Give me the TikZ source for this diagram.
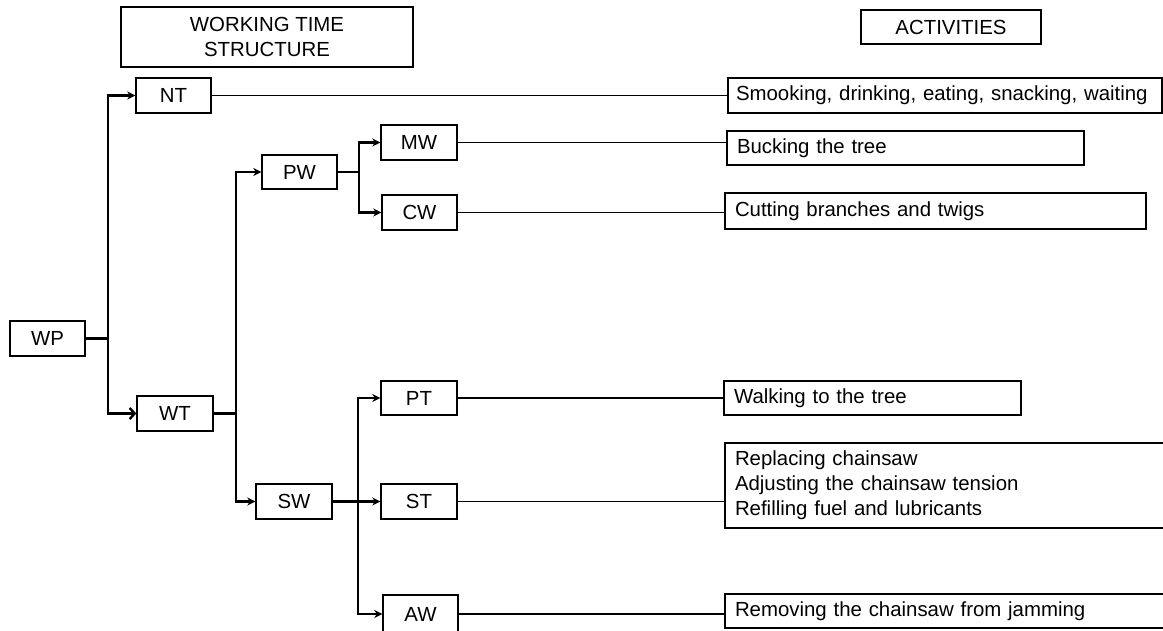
\documentclass[tikz,border=0pt]{standalone}
\usepackage{fontspec}
\setmainfont{Liberation Sans}
\usetikzlibrary{arrows.meta}
\begin{document}
\begin{tikzpicture}[x=1pt,y=-1pt,
  box/.style={draw, line width=1.4pt, inner sep=0pt, font=\fontsize{20.4}{25}\selectfont, align=center},
  actbox/.style={draw, line width=1.4pt, inner xsep=10pt, inner ysep=0pt, font=\fontsize{20.4}{25}\selectfont, align=left},
  conn/.style={line width=2.4pt},
  arr/.style={conn, -{Stealth[length=8pt,width=8pt]}},
  openarr/.style={conn, -{Straight Barb[length=5pt,width=11pt]}},
  actline/.style={line width=1.1pt}]
\useasboundingbox (0,0) rectangle (1163,630);
% headers
\node[box, minimum width=292, minimum height=60] (wts) at (267,37) {WORKING TIME\\STRUCTURE};
\node[box, minimum width=180, minimum height=34] (act) at (951,27) {ACTIVITIES};
% structure nodes
\node[box, minimum width=75, minimum height=35] (WP) at (47.5,338.5) {WP};
\node[box, minimum width=75, minimum height=35] (NT) at (173.5,95.5) {NT};
\node[box, minimum width=76, minimum height=35] (WT) at (175,413.5) {WT};
\node[box, minimum width=75, minimum height=34] (PW) at (299.5,172) {PW};
\node[box, minimum width=76, minimum height=35] (SW) at (294,501.5) {SW};
\node[box, minimum width=76, minimum height=35] (MW) at (419,142.5) {MW};
\node[box, minimum width=75, minimum height=35] (CW) at (419.5,212.5) {CW};
\node[box, minimum width=76, minimum height=34] (PT) at (419,398) {PT};
\node[box, minimum width=76, minimum height=35] (ST) at (419,501.5) {ST};
\node[box, minimum width=75, minimum height=38] (AW) at (420.5,614) {AW};
% activity boxes
\node[actbox, inner xsep=8pt, text width=418, minimum height=35] (aNT) at (945,95.5) {Smooking, drinking, eating, snacking, waiting};
\node[actbox, text width=337, minimum height=34] (aMW) at (905.5,148) {Bucking the tree};
\node[actbox, text width=401, minimum height=36] (aCW) at (935.5,211) {Cutting branches and twigs};
\node[actbox, text width=277, minimum height=34] (aPT) at (872.5,398) {Walking to the tree};
\node[actbox, text width=421, minimum height=85] (aST) at (945.5,485.5) {Replacing chainsaw\\Adjusting the chainsaw tension\\Refilling fuel and lubricants};
\node[actbox, text width=421, minimum height=34] (aAW) at (945.5,611) {Removing the chainsaw from jamming};
% junctions
\coordinate (j1) at (108,338.5);
\coordinate (j2) at (236,413.5);
\coordinate (j3) at (359,172);
\coordinate (j4) at (358,501.5);
% connectors
\draw[conn] (WP.east) -- (j1);
\draw[arr] (j1) |- (NT);
\draw[openarr] (j1) |- (WT);
\draw[conn] (WT.east) -- (j2);
\draw[arr] (j2) |- (PW);
\draw[arr] (j2) |- (SW);
\draw[conn] (PW.east) -- (j3);
\draw[arr] (j3) |- (MW);
\draw[arr] (j3) |- (CW);
\draw[conn] (SW.east) -- (j4);
\draw[arr] (j4) |- (PT);
\draw[arr] (j4) |- (ST);
\draw[arr] (j4) |- (AW);
% activity lines
\draw[actline] (NT.east) -- (aNT.west |- NT.east);
\draw[actline] (MW.east) -- (aMW.west |- MW.east);
\draw[actline] (CW.east) -- (aCW.west |- CW.east);
\draw[actline] (PT.east) -- (aPT.west |- PT.east);
\draw[actline] (ST.east) -- (aST.west |- ST.east);
\draw[actline] (AW.east) -- (aAW.west |- AW.east);
\end{tikzpicture}
\end{document}
